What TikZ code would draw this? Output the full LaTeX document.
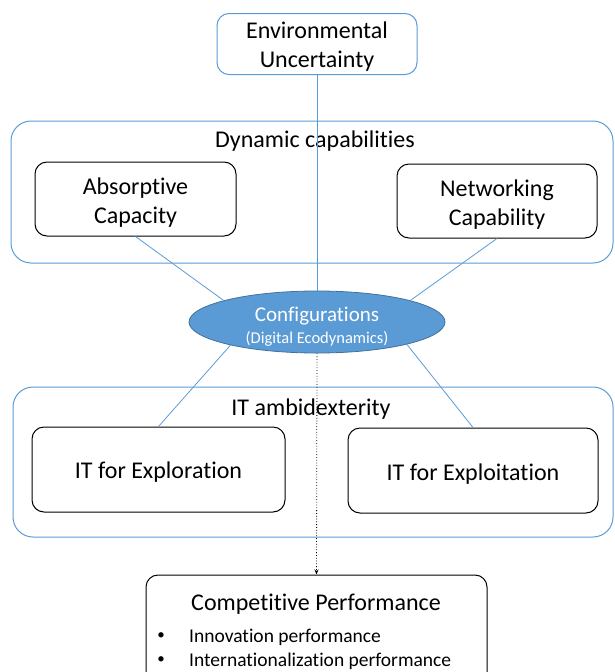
\documentclass[tikz,border=0pt]{standalone}
\usepackage{fontspec}
\setmainfont{Carlito}[Ligatures=NoCommon]
\usetikzlibrary{shapes.geometric,arrows.meta}

\definecolor{officeblue}{HTML}{5B9BD5}
\definecolor{officeedge}{HTML}{41719C}

\begin{document}
\begin{tikzpicture}[
  x=1pt,
  y=-1pt,
  every node/.style={
    font=\fontsize{24}{29}\selectfont,
    align=center,
    inner sep=0pt
  },
  group/.style={
    draw=officeblue,
    line width=1pt,
    rounded corners=20pt
  },
  factor/.style={
    draw=black,
    line width=1pt,
    rounded corners=12pt
  },
  hub/.style={
    ellipse,
    draw=officeedge,
    fill=officeblue,
    line width=0.8pt
  },
  link/.style={
    draw=officeblue,
    line width=0.8pt
  },
  outcome/.style={
    dotted,
    line width=0.8pt,
    -{Stealth[length=5pt,width=4pt]}
  },
  item/.style={
    font=\fontsize{19.5}{23}\selectfont,
    anchor=west
  },
  dot/.style={
    font=\fontsize{15}{18}\selectfont
  },
]
\clip (0,0) rectangle (614,672);

% top factor
\node[group, rounded corners=12pt, minimum width=200pt, minimum height=61pt]
  (env) at (317,44) {};
\node (envtext) at ([yshift=-3pt]env.center) {Environmental\\Uncertainty};

% dynamic capabilities
\node[group, minimum width=602pt, minimum height=142pt] (dyncap) at (312,192) {};
\node (dyncaptitle) at (315,141) {Dynamic capabilities};
\node[factor, minimum width=201pt, minimum height=74pt] (absorp) at (135.5,199) {};
\node (absorptext) at ([yshift=-4pt]absorp.center) {Absorptive\\Capacity};
\node[factor, minimum width=200pt, minimum height=74pt] (network) at (497,201) {};
\node (networktext) at ([yshift=-3.5pt]network.center) {Networking\\Capability};

% IT ambidexterity
\node[group, minimum width=600pt, minimum height=150pt] (itamb) at (313,462) {};
\node (itambtitle) at (311,409) {IT ambidexterity};
\node[factor, minimum width=253pt, minimum height=85pt] (explore) at (158.5,469.5) {};
\node (exploretext) at ([yshift=-3pt]explore.center) {IT for Exploration};
\node[factor, minimum width=250pt, minimum height=85pt] (exploit) at (473,470.5) {};
\node (exploittext) at ([yshift=-3.5pt]exploit.center) {IT for Exploitation};

% configurations
\node[hub, minimum width=256pt, minimum height=62pt] (config) at (317,322) {};
\node[text=white] (configtext) at ([yshift=-5pt]config.center)
  {{\fontsize{21}{24}\selectfont Configurations}\\[-7pt]
   {\fontsize{16.5}{20}\selectfont (Digital Ecodynamics)}};

% outcome
\node[factor, minimum width=341pt, minimum height=110pt] (comp) at (316.5,630) {};
\node (comptitle) at (316,604) {Competitive Performance};
\node[dot] (bulleta) at (161,636) {\textbullet};
\node[item] (innov) at (189,637) {Innovation performance};
\node[dot] (bulletb) at (161,660) {\textbullet};
\node[item] (intern) at (189,661) {Internationalization performance};

% connectors
\draw[link] (env.south) -- (config.north);
\draw[link] (absorp.south) -- (config.167);
\draw[link] (network.south) -- (config.13);
\draw[link] (config.195) -- (explore.north);
\draw[link] (config.346) -- (exploit.north);
\draw[outcome] (config.south) -- (comp.north);
\end{tikzpicture}
\end{document}
